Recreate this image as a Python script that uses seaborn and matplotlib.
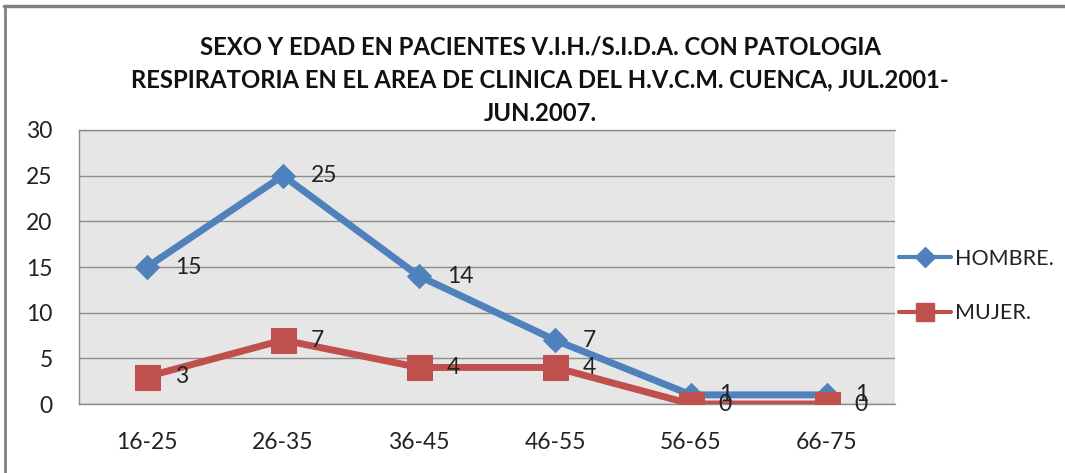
import pandas as pd
import matplotlib.pyplot as plt
import seaborn as sns
from matplotlib.lines import Line2D

edades = ["16-25", "26-35", "36-45", "46-55", "56-65", "66-75"]
hombre = [15, 25, 14, 7, 1, 1]
mujer = [3, 7, 4, 4, 0, 0]
titulo = ["SEXO Y EDAD EN PACIENTES V.I.H./S.I.D.A. CON PATOLOGIA",
          "RESPIRATORIA EN EL AREA DE CLINICA DEL H.V.C.M. CUENCA, JUL.2001-",
          "JUN.2007."]

azul = "#4F81BD"
rojo = "#C0504D"

sns.set_style("white")
plt.rcParams["font.family"] = ["Lato", "DejaVu Sans"]

df = pd.DataFrame({"edad": edades, "hombre": hombre, "mujer": mujer})

fig = plt.figure(figsize=(10.65, 4.73), dpi=100)
ax = fig.add_axes([79 / 1065, 1 - 404 / 473, 816 / 1065, 274 / 473])
ax.set_facecolor("#e6e6e6")

sns.lineplot(data=df, x="edad", y="hombre", ax=ax, color=azul, lw=5,
             marker="D", markersize=12, markeredgecolor=azul, zorder=3)
sns.lineplot(data=df, x="edad", y="mujer", ax=ax, color=rojo, lw=5,
             marker="s", markersize=18, markeredgecolor=rojo, zorder=4)

for i, v in enumerate(hombre):
    ax.annotate(str(v), (i, v), xytext=(20, 0), textcoords="offset points",
                ha="left", va="center", fontsize=16.5, color="#222222", zorder=5)
for i, v in enumerate(mujer):
    ax.annotate(str(v), (i, v), xytext=(20, 0), textcoords="offset points",
                ha="left", va="center", fontsize=16.5, color="#222222", zorder=5)

ax.set_xlim(-0.5, 5.5)
ax.set_ylim(0, 30)
ax.set_yticks(range(0, 31, 5))
ax.grid(axis="y", color="#8c8c8c", lw=1)
ax.set_axisbelow(True)
ax.set_xlabel("")
ax.set_ylabel("")
ax.tick_params(axis="y", length=0, pad=19, labelsize=16.5, labelcolor="#222222")
ax.tick_params(axis="x", length=0, pad=20, labelsize=16.5, labelcolor="#222222")
for s in ["left", "top", "bottom"]:
    ax.spines[s].set_color("#8c8c8c")
    ax.spines[s].set_linewidth(1)
ax.spines["right"].set_visible(False)

handles = [Line2D([], [], color=azul, lw=3, marker="D", markersize=10),
           Line2D([], [], color=rojo, lw=3, marker="s", markersize=13)]
fig.legend(handles, ["HOMBRE.", "MUJER."], loc="center left",
           bbox_to_anchor=(899 / 1065, 1 - 286 / 473), frameon=False,
           borderaxespad=0, borderpad=0,
           fontsize=15.5, handlelength=2.4, handletextpad=0.2, labelspacing=1.6,
           labelcolor="#222222")

for y, linea in zip([47, 80, 113], titulo):
    fig.text(540 / 1065, 1 - y / 473, linea, ha="center", va="center",
             fontsize=17.2, fontweight="bold", color="#111111")

fig.add_artist(Line2D([4 / 1065, 1], [1 - 6 / 473, 1 - 6 / 473],
                      transform=fig.transFigure, color="#808080", lw=2.5))
fig.add_artist(Line2D([5 / 1065, 5 / 1065], [0, 1 - 6 / 473],
                      transform=fig.transFigure, color="#808080", lw=2))

fig.savefig("out.png", dpi=100)
